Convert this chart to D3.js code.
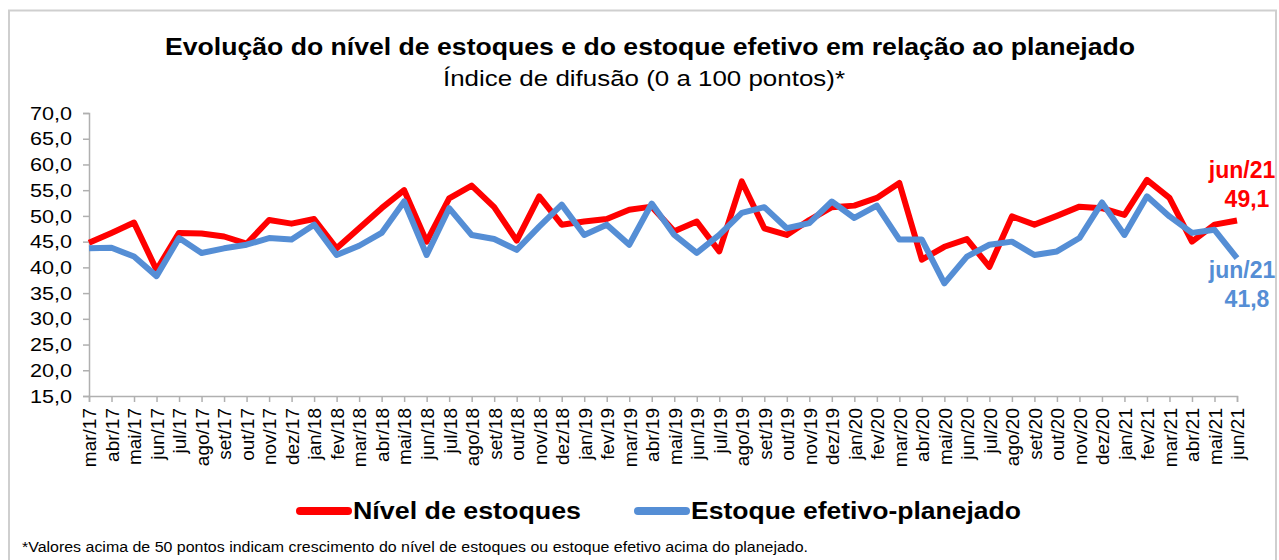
<!DOCTYPE html>
<html>
<head>
<meta charset="utf-8">
<script src="https://cdn.jsdelivr.net/npm/d3@7"></script>
<style>
  body { margin: 0; background: #fff; }
  text { font-family: "Liberation Sans", Arial, sans-serif; }
</style>
</head>
<body>
<div id="vis"></div>
<script>
// Months on the x axis
var months = ['mar/17','abr/17','mai/17','jun/17','jul/17','ago/17','set/17','out/17','nov/17','dez/17',
  'jan/18','fev/18','mar/18','abr/18','mai/18','jun/18','jul/18','ago/18','set/18','out/18','nov/18','dez/18',
  'jan/19','fev/19','mar/19','abr/19','mai/19','jun/19','jul/19','ago/19','set/19','out/19','nov/19','dez/19',
  'jan/20','fev/20','mar/20','abr/20','mai/20','jun/20','jul/20','ago/20','set/20','out/20','nov/20','dez/20',
  'jan/21','fev/21','mar/21','abr/21','mai/21','jun/21'];

// Nível de estoques
var nivel = [44.8, 46.7, 48.7, 39.5, 46.7, 46.6, 46.0, 44.6, 49.2, 48.5, 49.4, 43.7, 47.6, 51.5, 55.0, 45.0,
  53.4, 55.9, 51.7, 45.2, 53.8, 48.3, 48.9, 49.4, 51.2, 51.8, 47.0, 48.9, 43.1, 56.7, 47.6, 46.3,
  49.2, 51.7, 52.0, 53.5, 56.4, 41.5, 44.0, 45.5, 40.1, 49.9, 48.3, 50.0, 51.8, 51.5,
  50.2, 57.0, 53.5, 45.0, 48.3, 49.1];

// Estoque efetivo-planejado
var efetivo = [43.7, 43.8, 42.1, 38.3, 45.7, 42.8, 43.7, 44.4, 45.7, 45.4, 48.3, 42.4, 44.2, 46.7, 52.8, 42.4,
  51.5, 46.3, 45.5, 43.4, 47.9, 52.2, 46.3, 48.3, 44.4, 52.4, 46.3, 42.8, 46.3, 50.6, 51.7, 47.6,
  48.6, 52.8, 49.6, 52.0, 45.4, 45.4, 36.9, 42.1, 44.4, 45.0, 42.4, 43.1, 45.7, 52.6,
  46.3, 53.8, 49.9, 46.7, 47.3, 41.8];

var yTicks = [15, 20, 25, 30, 35, 40, 45, 50, 55, 60, 65, 70];

var width = 1279;
var height = 560;

var margin = { left: 89, right: 42, top: 113, bottom: 164 };
var drawWidth = width - margin.left - margin.right;
var drawHeight = height - margin.top - margin.bottom;

var svg = d3.select('#vis').append('svg')
    .attr('width', width)
    .attr('height', height);

// outer frame
svg.append('rect')
    .attr('x', 9).attr('y', 10.5)
    .attr('width', width - 12).attr('height', height)
    .attr('fill', 'none')
    .attr('stroke', '#cfcfcf')
    .attr('stroke-width', 2);

// titles (the source picture is stretched sideways, so widths are forced)
svg.append('text')
    .attr('x', 165).attr('y', 55)
    .attr('textLength', 970).attr('lengthAdjust', 'spacingAndGlyphs')
    .style('font-size', '23px').style('font-weight', 'bold')
    .text('Evolução do nível de estoques e do estoque efetivo em relação ao planejado');

svg.append('text')
    .attr('x', 443).attr('y', 86)
    .attr('textLength', 402).attr('lengthAdjust', 'spacingAndGlyphs')
    .style('font-size', '22px')
    .text('Índice de difusão (0 a 100 pontos)*');

var g = svg.append('g')
    .attr('transform', 'translate(' + margin.left + ',' + margin.top + ')');

var xScale = d3.scalePoint().domain(months).range([0, drawWidth]);
var yScale = d3.scaleLinear().domain([15, 70]).range([drawHeight, 0]);

var fmt = function(d) { return d3.format('.1f')(d).replace('.', ','); };

// y axis
var yAxis = g.append('g')
    .call(d3.axisLeft(yScale).tickValues(yTicks).tickFormat(fmt).tickSizeOuter(0).tickSize(6).tickPadding(11));
yAxis.selectAll('text')
    .style('font-size', '19px')
    .attr('fill', '#000')
    .attr('textLength', 42).attr('lengthAdjust', 'spacingAndGlyphs');

// x axis
var xAxis = g.append('g')
    .attr('transform', 'translate(0,' + drawHeight + ')')
    .call(d3.axisBottom(xScale).tickSizeOuter(0).tickSize(6));
xAxis.selectAll('text')
    .style('font-size', '19px')
    .attr('fill', '#000')
    .attr('text-anchor', 'end')
    .attr('transform', 'rotate(-90)')
    .attr('x', -12)
    .attr('y', 0)
    .attr('dy', '0.36em');

svg.selectAll('.domain, .tick line').attr('stroke', '#b0b0b0').attr('stroke-width', 1.5);

// lines
var line = d3.line()
    .x(function(d, i) { return xScale(months[i]); })
    .y(function(d) { return yScale(d); });

g.append('path').datum(nivel)
    .attr('d', line)
    .attr('fill', 'none')
    .attr('stroke', '#ff0000')
    .attr('stroke-width', 6)
    .attr('stroke-linejoin', 'round');

g.append('path').datum(efetivo)
    .attr('d', line)
    .attr('fill', 'none')
    .attr('stroke', '#558ed5')
    .attr('stroke-width', 6)
    .attr('stroke-linejoin', 'round');

// end labels
var last = months.length - 1;
var labels = [
  { color: '#ff0000', lines: [months[last], fmt(nivel[last])], y: 178 },
  { color: '#558ed5', lines: [months[last], fmt(efetivo[last])], y: 278 }
];
labels.forEach(function(l) {
    var t = svg.append('text')
        .attr('text-anchor', 'middle')
        .attr('fill', l.color)
        .style('font-size', '23px').style('font-weight', 'bold');
    t.append('tspan').attr('x', 1242).attr('y', l.y).text(l.lines[0]);
    t.append('tspan').attr('x', 1247).attr('y', l.y + 29).text(l.lines[1]);
});

// legend
var legend = [
  { name: 'Nível de estoques', color: '#ff0000', x: 296, w: 228 },
  { name: 'Estoque efetivo-planejado', color: '#558ed5', x: 634, w: 330 }
];
legend.forEach(function(l) {
    svg.append('line')
        .attr('x1', l.x + 4).attr('x2', l.x + 52)
        .attr('y1', 511).attr('y2', 511)
        .attr('stroke', l.color)
        .attr('stroke-width', 8)
        .attr('stroke-linecap', 'round');
    svg.append('text')
        .attr('x', l.x + 57).attr('y', 519)
        .attr('textLength', l.w).attr('lengthAdjust', 'spacingAndGlyphs')
        .style('font-size', '23px').style('font-weight', 'bold')
        .text(l.name);
});

svg.append('text')
    .attr('x', 22).attr('y', 552)
    .attr('textLength', 786).attr('lengthAdjust', 'spacingAndGlyphs')
    .style('font-size', '14px')
    .text('*Valores acima de 50 pontos indicam crescimento do nível de estoques ou estoque efetivo acima do planejado.');
</script>
</body>
</html>
